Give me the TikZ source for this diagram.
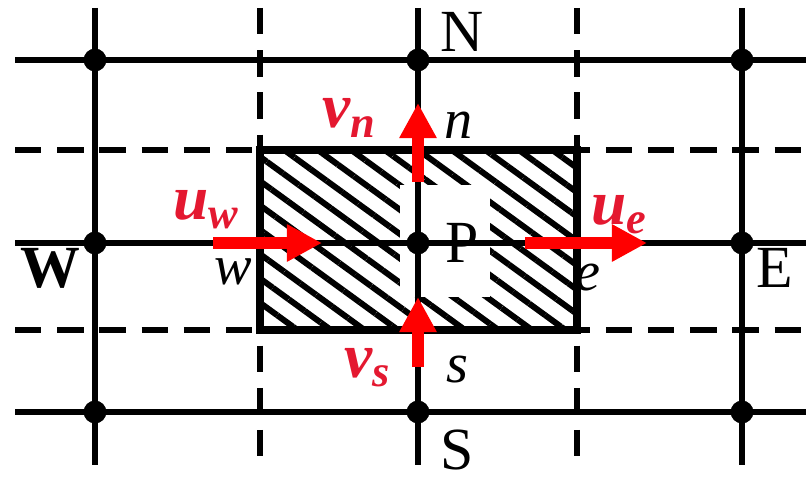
\documentclass[tikz,border=0pt]{standalone}
\usepackage{fontspec}
\setmainfont{Liberation Serif}
\usetikzlibrary{arrows.meta,patterns.meta}
\definecolor{velred}{RGB}{228,24,48}
\newcommand{\velsub}[2]{#1\textsubscript{#2}}

\begin{document}
\begin{tikzpicture}[
x=0.01cm, y=-0.01cm,
grid/.style ={line width=1.7pt},
face/.style ={line width=1.7pt, dash pattern=on 7.5pt off 4.5pt},
cv/.style ={line width=2pt, pattern={Lines[angle=-36,distance=5.6pt,line width=1.7pt]}},
dot/.style ={circle, fill, inner sep=0pt, minimum size=6.5pt},
vel/.style ={red, line width=3.6pt, -{Triangle[length=10pt,width=10pt]}},
nodelbl/.style ={font=\fontsize{17}{20}\selectfont},
facelbl/.style ={font=\fontsize{16}{19}\selectfont\itshape},
vellbl/.style ={text=velred, font=\fontsize{18}{21}\selectfont\bfseries\itshape}
]
\useasboundingbox (0,0) rectangle (806,479);

% control volume round P
\coordinate (cv-nw) at (260,150);
\coordinate (cv-se) at (577,330);
\draw[cv] (cv-nw) rectangle (cv-se);
\fill[white] (400,185) rectangle (490,297);

% grid lines through W, P, E and N, P, S
\foreach \x [count=\i] in {95,418,742}{
	\coordinate (top-\i) at (\x,8);
	\coordinate (bot-\i) at (\x,465);
	\draw[grid] (top-\i) -- (bot-\i);
}
\foreach \y [count=\j] in {60,243,412}{
	\coordinate (left-\j) at (15,\y);
	\coordinate (right-\j) at (806,\y);
	\draw[grid] (left-\j) -- (right-\j);
}

% faces w, e, n, s
\foreach \x [count=\i] in {260,577}{
	\coordinate (ftop-\i) at (\x,8);
	\coordinate (fbot-\i) at (\x,470);
	\draw[face] (ftop-\i) -- (fbot-\i);
}
\foreach \y [count=\j] in {150,330}{
	\coordinate (fleft-\j) at (15,\y);
	\coordinate (fright-\j) at (806,\y);
	\draw[face] (fleft-\j) -- (fright-\j);
}

\foreach \x [count=\i] in {95,418,742}
	\foreach \y [count=\j] in {60,243,412}
		\node[dot] (g-\i-\j) at (\x,\y) {};

% velocities on the faces
\coordinate (uw-a) at (213,243);
\coordinate (uw-b) at (322,243);
\coordinate (ue-a) at (525,243);
\coordinate (ue-b) at (647,243);
\coordinate (vn-a) at (418,182);
\coordinate (vn-b) at (418,103);
\coordinate (vs-a) at (418,367);
\coordinate (vs-b) at (418,297);
\draw[vel] (uw-a) -- (uw-b);
\draw[vel] (ue-a) -- (ue-b);
\draw[vel] (vn-a) -- (vn-b);
\draw[vel] (vs-a) -- (vs-b);

\node[nodelbl] (N) at (462,32) {N};
\node[nodelbl] (S) at (457,450) {S};
\node[nodelbl,font=\fontsize{17}{20}\selectfont\bfseries] (W) at (50,268) {W};
\node[nodelbl] (E) at (775,268) {E};
\node[nodelbl] (P) at (462,243) {P};

\node[facelbl] (w) at (233,272) {w};
\node[facelbl] (e) at (588,278) {e};
\node[facelbl] (n) at (459,125) {n};
\node[facelbl] (s) at (457,370) {s};

\node[vellbl] (uw) at (207,210) {\velsub{u}{w}};
\node[vellbl] (ue) at (620,215) {\velsub{u}{e}};
\node[vellbl] (vn) at (350,118) {\velsub{v}{n}};
\node[vellbl] (vs) at (368,368) {\velsub{v}{s}};
\end{tikzpicture}
\end{document}
